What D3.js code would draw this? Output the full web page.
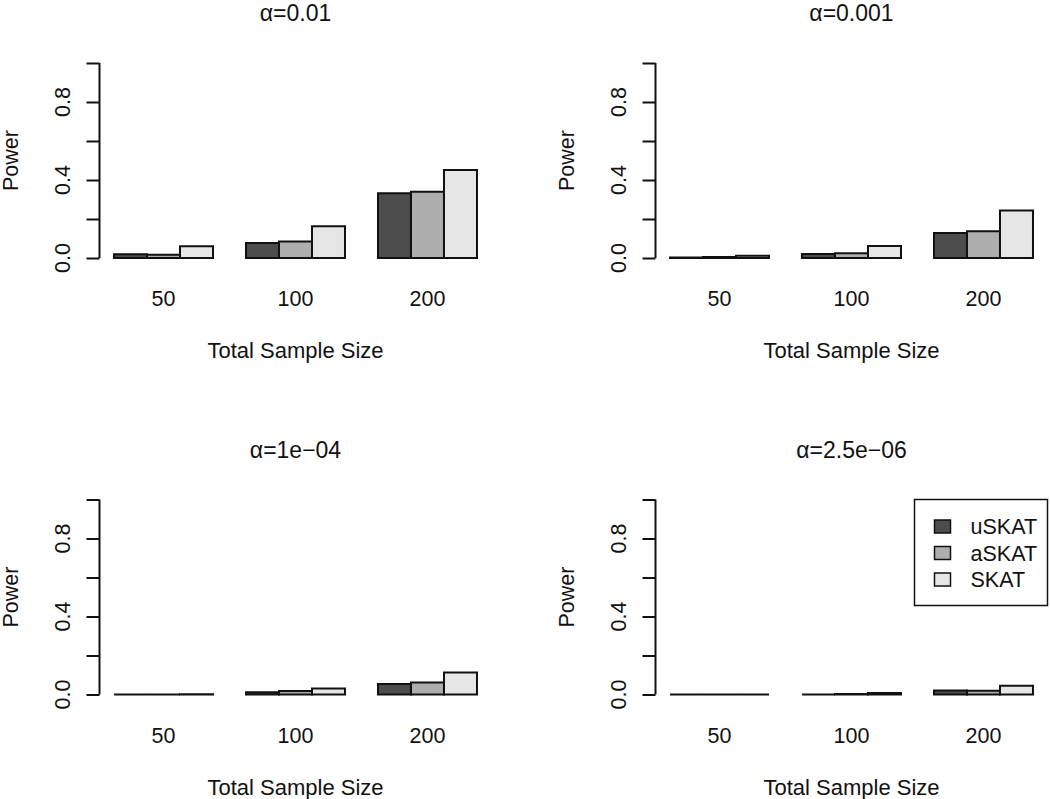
<!DOCTYPE html>
<html>
<head>
<meta charset="utf-8">
<script src="https://cdn.jsdelivr.net/npm/d3@7"></script>
<style>
  html, body { margin: 0; padding: 0; background: #fff; }
  svg { display: block; font-family: "Liberation Sans", Arial, sans-serif; }
</style>
</head>
<body>
<svg id="chart" width="1050" height="799"></svg>
<script>
// ---- data ----
const categories = ["50", "100", "200"];
const seriesNames = ["uSKAT", "aSKAT", "SKAT"];
const seriesColors = ["#4D4D4D", "#AEAEAE", "#E6E6E6"];
const panelTitles = ["\u03B1=0.01", "\u03B1=0.001", "\u03B1=1e\u221204", "\u03B1=2.5e\u221206"];
const yTickValues = [0, 0.2, 0.4, 0.6, 0.8, 1.0];
const yTickLabels = ["0.0", "", "0.4", "", "0.8", ""];
const xAxisTitle = "Total Sample Size";
const yAxisTitle = "Power";
// values per panel (alpha level), per sample size
const uSKAT = [[0.019, 0.077, 0.332], [0.002, 0.020, 0.128], [0.000, 0.012, 0.054], [0.000, 0.000, 0.021]];
const aSKAT = [[0.017, 0.084, 0.340], [0.005, 0.024, 0.137], [0.000, 0.018, 0.061], [0.000, 0.002, 0.019]];
const SKAT  = [[0.060, 0.163, 0.451], [0.012, 0.061, 0.243], [0.001, 0.031, 0.113], [0.000, 0.008, 0.045]];
const seriesValues = [uSKAT, aSKAT, SKAT];

// ---- layout ----
const svg = d3.select("#chart");
const panelOffsets = [[0, 0], [556, 0], [0, 436.5], [556, 436.5]];
const barsPerGroup = seriesNames.length;
// R barplot units: group g, bar i -> left edge 1 + g*(n+1) + i
const lastRight = categories.length * (barsPerGroup + 1); // right edge of last bar
const ext = 0.04 * (lastRight - 1);
const x = d3.scaleLinear().domain([1 - ext, lastRight + ext]).range([99.5, 491.5]);
const y = d3.scaleLinear().domain([0, 1]).range([258, 63]);

panelOffsets.forEach((off, p) => {
  const g = svg.append("g").attr("transform", `translate(${off[0]},${off[1]})`);

  // bars (as paths so zero-height bars still show their outline)
  const barData = [];
  categories.forEach((c, ci) => {
    seriesNames.forEach((s, si) => {
      const left = 1 + ci * (barsPerGroup + 1) + si;
      barData.push({ left, v: seriesValues[si][p][ci], color: seriesColors[si] });
    });
  });
  g.selectAll("path.bar").data(barData).enter().append("path")
    .attr("class", "bar")
    .attr("d", d => `M${x(d.left)},${y(0)}V${y(d.v)}H${x(d.left + 1)}V${y(0)}Z`)
    .attr("fill", d => d.color)
    .attr("stroke", "#111")
    .attr("stroke-width", 2);

  // y axis
  const yAxis = d3.axisLeft(y).tickValues(yTickValues).tickSize(13).tickSizeOuter(0).tickFormat("");
  const ya = g.append("g").attr("transform", `translate(${x.range()[0]},0)`).call(yAxis);
  ya.selectAll("path, line").attr("stroke", "#111").attr("stroke-width", 2);
  ya.select(".domain").attr("d", `M0,${y(0)}V${y(1)}`);

  // y tick labels (rotated, as in R)
  yTickValues.forEach((v, i) => {
    if (!yTickLabels[i]) return;
    g.append("text")
      .attr("transform", `translate(70,${y(v)}) rotate(-90)`)
      .attr("text-anchor", "middle")
      .attr("font-size", 21.5)
      .attr("fill", "#111")
      .text(yTickLabels[i]);
  });

  // x labels
  categories.forEach((c, ci) => {
    const center = 1 + ci * (barsPerGroup + 1) + barsPerGroup / 2;
    g.append("text")
      .attr("x", x(center))
      .attr("y", 306)
      .attr("text-anchor", "middle")
      .attr("font-size", 21.5)
      .attr("fill", "#111")
      .text(c);
  });

  const midX = (x.range()[0] + x.range()[1]) / 2;
  // axis titles
  g.append("text")
    .attr("x", midX).attr("y", 358)
    .attr("text-anchor", "middle")
    .attr("font-size", 22).attr("fill", "#111")
    .text(xAxisTitle);
  g.append("text")
    .attr("transform", `translate(18,${(y(0) + y(1)) / 2}) rotate(-90)`)
    .attr("text-anchor", "middle")
    .attr("font-size", 21.5).attr("fill", "#111")
    .text(yAxisTitle);

  // panel title
  g.append("text")
    .attr("x", midX).attr("y", 21)
    .attr("text-anchor", "middle")
    .attr("font-size", 23).attr("fill", "#111")
    .text(panelTitles[p]);

  // legend in last panel
  if (p === 3) {
    const lg = g.append("g");
    const right = x.range()[1];
    const top = y(1);
    const lw = 133, lh = 106;
    lg.append("rect")
      .attr("x", right - lw).attr("y", top)
      .attr("width", lw).attr("height", lh)
      .attr("fill", "#fff").attr("stroke", "#111").attr("stroke-width", 1.5);
    seriesNames.forEach((s, si) => {
      const cy = top + 27 + si * 26.5;
      lg.append("rect")
        .attr("x", right - lw + 20).attr("y", cy - 6.5)
        .attr("width", 16).attr("height", 13)
        .attr("fill", seriesColors[si]).attr("stroke", "#111").attr("stroke-width", 1.5);
      lg.append("text")
        .attr("x", right - lw + 56).attr("y", cy + 7.5)
        .attr("font-size", 21.5).attr("fill", "#111")
        .text(s);
    });
  }
});
</script>
</body>
</html>
